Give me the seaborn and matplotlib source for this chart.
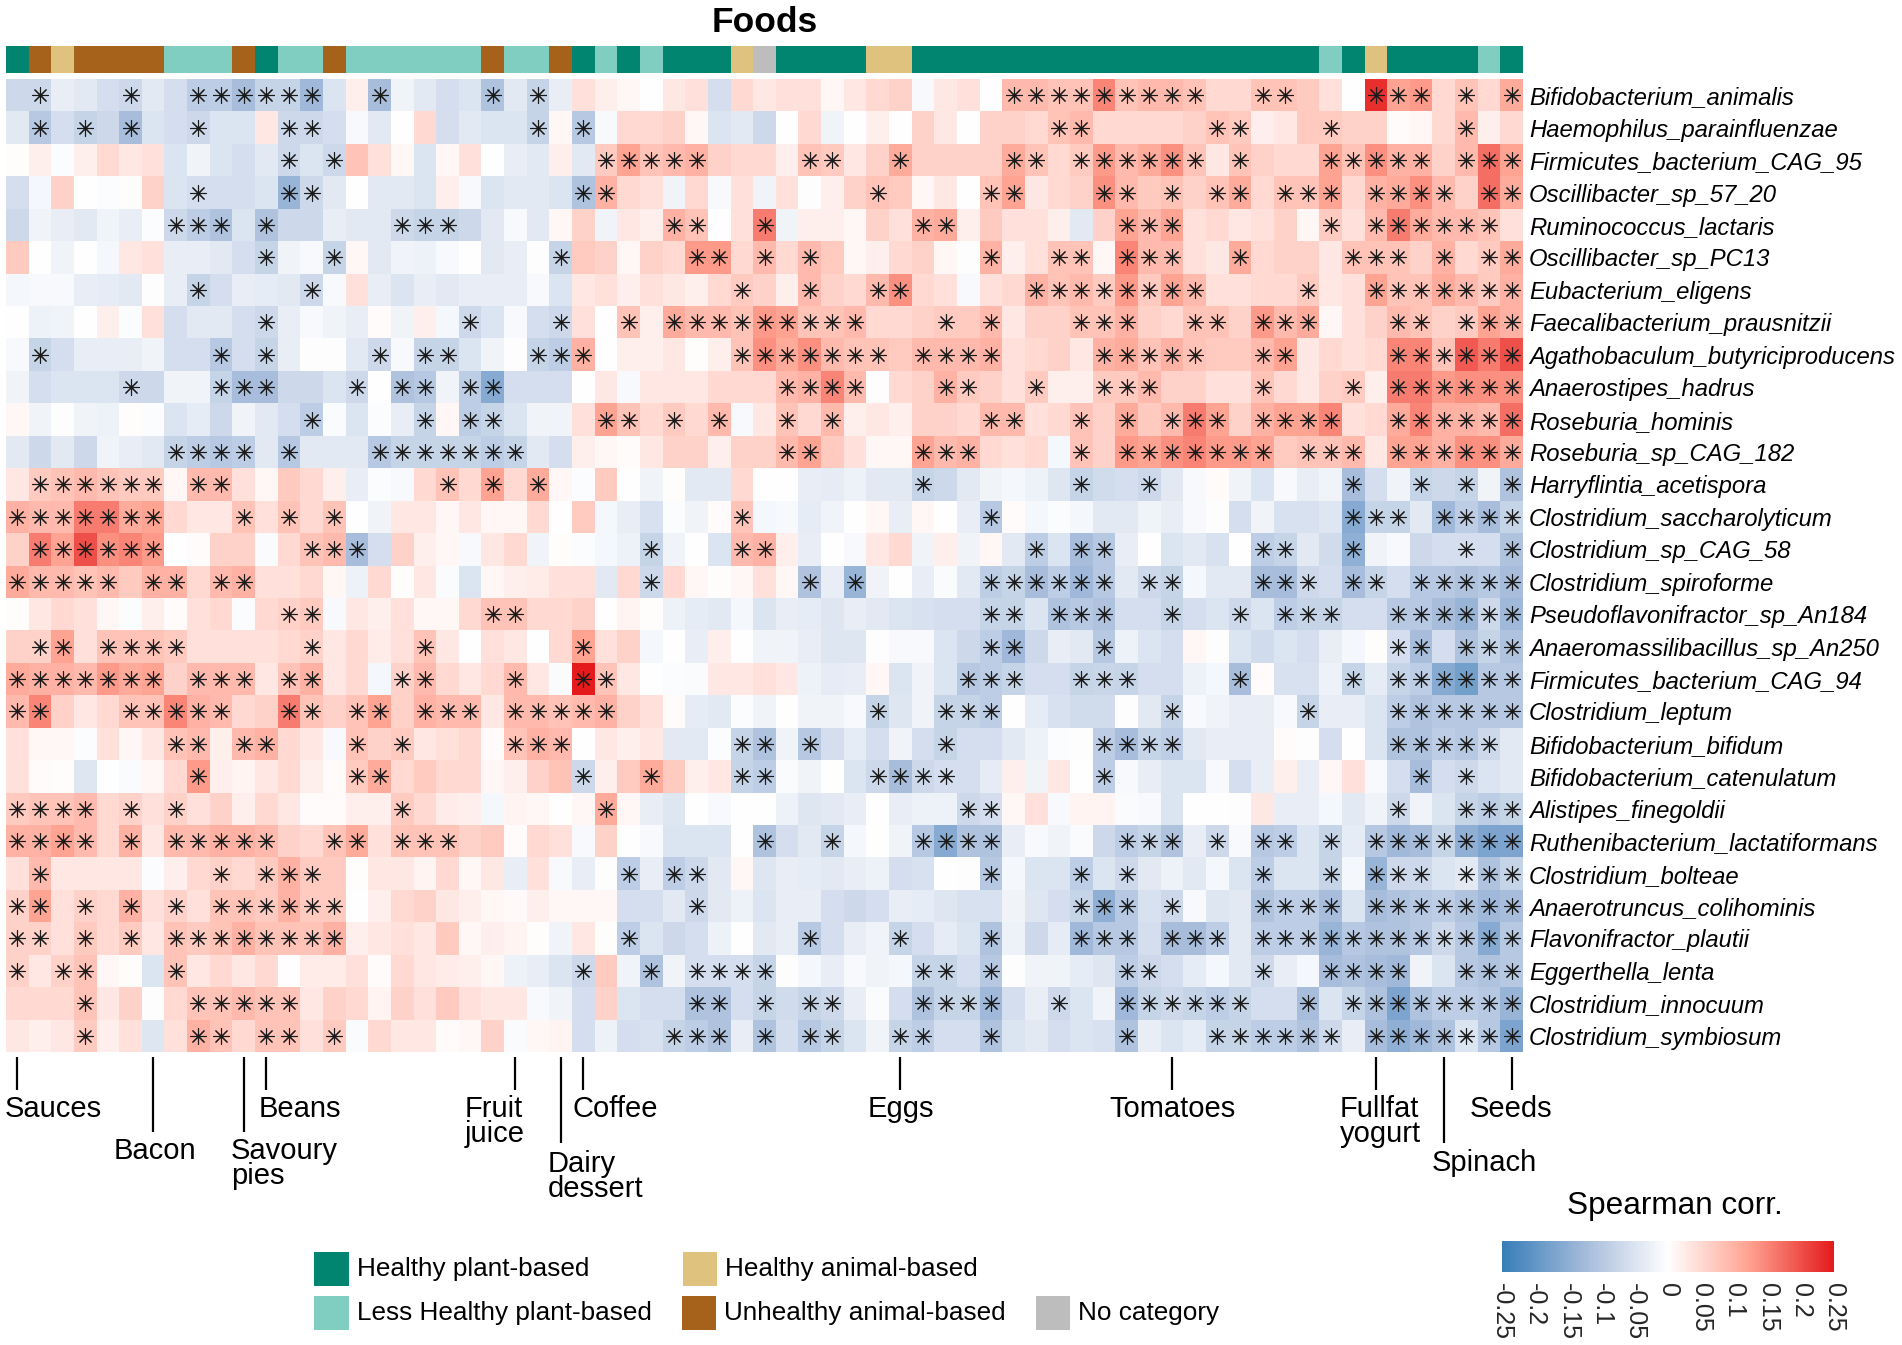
import pandas as pd
import matplotlib
matplotlib.use("Agg")
import matplotlib.pyplot as plt
from matplotlib.colors import LinearSegmentedColormap, ListedColormap
from matplotlib.patches import Rectangle
import seaborn as sns

W, H = 1902, 1345

species = ["Bifidobacterium_animalis", "Haemophilus_parainfluenzae", "Firmicutes_bacterium_CAG_95",
           "Oscillibacter_sp_57_20", "Ruminococcus_lactaris", "Oscillibacter_sp_PC13", "Eubacterium_eligens",
           "Faecalibacterium_prausnitzii", "Agathobaculum_butyriciproducens", "Anaerostipes_hadrus",
           "Roseburia_hominis", "Roseburia_sp_CAG_182", "Harryflintia_acetispora", "Clostridium_saccharolyticum",
           "Clostridium_sp_CAG_58", "Clostridium_spiroforme", "Pseudoflavonifractor_sp_An184",
           "Anaeromassilibacillus_sp_An250", "Firmicutes_bacterium_CAG_94", "Clostridium_leptum",
           "Bifidobacterium_bifidum", "Bifidobacterium_catenulatum", "Alistipes_finegoldii",
           "Ruthenibacterium_lactatiformans", "Clostridium_bolteae", "Anaerotruncus_colihominis",
           "Flavonifractor_plautii", "Eggerthella_lenta", "Clostridium_innocuum", "Clostridium_symbiosum"]

# food group of each column: 0 healthy plant, 1 less healthy plant, 2 healthy animal, 3 unhealthy animal, 4 none
food_groups = [0, 3, 2, 3, 3, 3, 3, 1, 1, 1, 3, 0, 1, 1, 3, 1, 1, 1, 1, 1, 1, 3, 1, 1, 3, 0, 1, 0, 1, 0, 0, 0, 2, 4,
               0, 0, 0, 0, 2, 2, 0, 0, 0, 0, 0, 0, 0, 0, 0, 0, 0, 0, 0, 0, 0, 0, 0, 0, 1, 0, 2, 0, 0, 0, 0, 1, 0]
group_names = ["Healthy plant-based", "Less Healthy plant-based", "Healthy animal-based",
               "Unhealthy animal-based", "No category"]
group_colors = ["#018571", "#80CDC1", "#DFC27D", "#A6611A", "#BDBDBD"]

# correlations in hundredths, one list per species
corr_pct = [
    [-7,-7,-3,-4,-6,-7,-4,-6,-9,-9,-12,-8,-8,-13,-5,2,-12,-2,-4,-6,-5,-11,-4,-8,-3,4,2,1,0,3,4,-6,5,3,4,4,1,3,5,6,-1,3,4,0,9,9,8,8,15,8,9,9,8,5,5,8,8,7,4,0,23,12,13,5,8,5,11],
    [-4,-10,-6,-8,-7,-12,-5,-6,-7,-5,-5,3,-7,-7,-6,-1,-4,0,5,-6,-4,-5,-5,-8,1,-10,-1,5,5,6,1,-5,-4,-7,0,5,-2,0,2,0,6,3,0,6,6,5,8,9,5,5,5,5,6,8,7,2,3,7,7,6,6,0.5,1,5,9,2,5],
    [0.3,2,-0.5,2,5,3,4,-5,-2,-5,-6,-4,-7,-5,-7,8,4,1,-5,1,4,0,-3,-4,2,-4,7,12,8,9,10,6,5,5,2,8,7,3,6,11,6,6,6,6,11,8,5,7,13,9,11,14,8,3,8,6,5,5,12,8,14,10,10,6,9,17,12],
    [-6,-1.5,6,0,-0.5,0.3,6,-5,-6,-6,-6,-5,-14,-7,-4,0,-4,-4,-5,2,-1,-5,-4,-4,-5,-11,10,5,4,-2,5,-1,4,-2,4,-0.3,2,6,8,7,1,3,0,8,12,3,5,6,14,9,7,8,6,8,11,5,8,8,12,5,10,11,14,9,6,17,11],
    [-7,-2,-3,-4,-2,-3,-0.5,-7,-9,-11,-5,-11,-7,-7,-3,-4,-4,-7,-8,-8,-7,-4,-1,-4,1,6,-2,3,2,10,8,0,4,16,-2,2,2,1,6,4,10,11,2,7,4,4,2,-4,6,12,9,12,4,5,3,4,6,1,7,4,9,16,11,9,9,8,4],
    [7,0,-2,0,-1.5,3,4,-3,-3,-4,-6,-8,-2,-1,-8,1,-4,-2,-2.5,-1,0,-4,-3,-0.3,-8,7,6,1,6,5,13,13,5,9,5,9,7,1,2,5,6,1,-0.3,10,2,4,8,8,1,15,9,9,4,3,11,5,6,6,3,8,8,8,6,10,5,7,11],
    [-1.5,-1,-1,-3,-3.5,-4,-0.3,-3,-8,-6,-3,-3.5,-4,-7,-1,4,-3,-5,-3,-4,-3,-3,-3,-1,-5,3,4,2,4,3,2,5,7,6,2,9,6,5,9,14,5,4,-1,4,5,10,8,9,7,13,7,12,9,4,4,5,5,7,3,4,12,8,8,11,9,7,10],
    [0,-2.5,-2,0,2,-0.5,4,-6,-4,-4,-6,-7,-3,-1,-2,-3,0.5,-2,2,-1.5,-7,-5,-1,-6,-7,4,0,8,2,11,9,9,8,13,12,8,8,9,5,5,6,7,7,9,3,6,6,8,8,10,6,5,8,8,6,13,9,11,1,4,6,9,8,6,7,12,10],
    [-1,-8,-6,-3,-3,-3,-2,-6,-6,-10,-6,-8,-3,-0.3,-0.3,-4,-7,-1,-8,-8,-5,-2,-0.3,-8,-9,10,0,2,2,3,0.3,2,8,14,11,14,9,8,8,7,9,9,9,10,4,5,6,3,10,11,8,10,8,7,7,9,12,3,5,4,5,15,15,8,19,16,20],
    [-2,-6,-5,-5,-5,-7,-7,-2,-2,-8,-12,-12,-7,-7,-5,-7,0,-11,-10,-2,-9,-16,-6,-6,-6,0,3,-1,3,3,3,5,5,5,9,10,15,9,-0.3,5,6,10,7,6,4,7,2,2,7,7,9,6,6,4,4,8,5,3,6,7,2,16,16,13,14,14,14],
    [1,-2,-0.3,-2,-2.5,0.3,-0.5,-5,-3.5,-7,-2,-4,-6,-9,-0.7,-5,-0.5,-3,-8,1,-9,-8,-5,-2,-2,4,12,8,5,7,5,9,-1,3,8,5,9,2,3,2,6,6,5,9,9,4,5,8,6,11,7,9,16,12,6,10,12,12,15,4,5,11,15,10,10,9,17],
    [-4,-7,-4,-7,-2,-3,-4,-8,-9,-10,-9,-4,-10,-4,-4,-4,-10,-8,-8,-8,-8,-9,-8,-4,-6,2,1,0.5,3,6,6,2,6,6,9,12,7,4,1,1,12,9,10,5,4,5,-1.5,8,6,13,12,14,15,13,13,12,7,8,8,9,3,12,12,10,14,14,11],
    [3,7,8,9,8,7,7,1,9,9,4,1,7,5,2,-3,-0.5,-1,5,8,5,12,5,11,1,-0.5,7,0,-2,0.3,-4,-4,5,0,0,-3,-3.5,-2.5,-4,-4,-8,-7,-4,-2,-1.5,-2.5,-4.5,-8,-6.5,-6,-7,-4,-1,0.5,-2,-5,-1,-3,-2,-12,-6,-2,-8,-7,-8,-2,-11],
    [10,9,9,16,16,11,12,5,3,3,8,4,8,5,8,0,-2,3,3,1,3,1,1,5,0,7,-1.5,-3,-5.5,-0.5,-2,0.5,8,-1.5,-1,-3.5,-2,0,1,-3,1,0,-3,-10,0.5,-1.5,-0.5,-1.5,-4,-4,-2,-3,-1,-0.3,-6,-2,-5.5,-5.5,-4.5,-16,-8,-8,-4,-13,-9,-12,-8],
    [6,16,12,20,14,15,13,0,0.5,6,6,-0.7,5,8,9,-12,-6,6,2,1,-1,3,5,-2,0.3,-0.5,-1.5,-2.5,-8,-2,0,-5,9,10,2,-3,0,-1,3,5,-2,2,-2,1,-4,-9,-5,-12,-10,-3,0,-5,-4,-5.5,0,-9,-8,-4,-6.5,-15,-2,-1,-7,-6,-6,-6,-11],
    [11,9,9,8,9,7,10,10,5,9,10,4,4,5,1,-2.5,5,0.3,3,-0.7,-5,1,2,2.5,4,4,-4,5,-7,5,1,0.3,1,4,1,-11,-3,-14,-2,0,-3,-0.7,-4,-9,-8,-12,-9,-13,-10,-4,-7,-8,-1.5,-4,-4,-12,-12,-7,-6,-12,-8,-6,-10,-10,-11,-10,-12],
    [0.3,3,5,4,1,-0.5,2,0.5,4,5,-0.5,5,6,7,-1,3,2,4,1,1,5,8,8,5,5,6,0,1.5,0.3,-2.5,-3.5,-4,-1.5,-5,-3,-3.5,-4.5,-3,-4,-5,-5.5,-6,-6,-8,-8,-5,-11,-10,-11,-6,-6,-8,-6,-5,-7,-5,-9,-8,-8,-6,-6,-10,-10,-12,-14,-7,-13],
    [6,6,12,4,8,8,8,7,4,4,4,4,5,6,3,5,2.5,4,8,3,0,4,3,0,5,12,4,6,-1.5,0,-3,2,0,-2,-2,-3,-4.5,-4.5,-0.3,-1,-1,-5,-7,-9,-13,-7,-3,-4,-10,-2.5,-5,-6,1,-0.3,-5,-6.5,-5,-6,-3,-1.5,0.3,-6,-12,-6,-11,-8,-11],
    [11,10,10,9,13,11,12,6,9,9,9,3,8,10,3,5,-1.5,6,9,5,3,5,9,3,-0.7,25,8,3,0,-0.5,-0.7,3,3,4,3,-2.5,-3.5,-3,1,-5,-2,-5,-10,-9,-8,-6,-6,-8,-7.5,-8,-6,-6,-2.5,-1.5,-12,0.5,-5.5,-5.5,-2.5,-8,-3.5,-8,-9,-16,-18,-10,-10],
    [9,15,6,3,5,8,8,15,10,9,5,6,16,8,6,8,12,6,10,9,9,3,9,9,8,9,10,6,4,0.5,-3.5,-4,-0.5,-2,0,-2,-2,-1,-8,-4.5,-2,-8,-8,-9,0,-3.5,-5.5,-6.5,-6.5,-0.3,-4,-8,-1,-2,-3,-3,-1,-8,-3,-3,-5,-9,-11,-10,-10,-10,-10],
    [4,1,1,-0.5,4,1,3,8,9,2,9,10,5,3,-1,8,6,7,3,4,5,0.5,8,10,9,0,3,2,3,-4,-4,-0.5,-8,-11,-2,-10,-6,-3.5,-6,-2,-6,-8,-6,-6,-4,-2.5,-0.5,-0.3,-9,-12,-8,-9,-4,-3,-3,-3,0.5,-0.3,-6,0,-5,-11,-11,-9,-10,-7,-4],
    [4,0.5,0.3,-4.5,0,-0.7,1,5,13,2,1.5,3,5,2,0.5,7,11,5,7,5,5,1,2,6,8,-7,2,7,11,7,2,3,-8,-9,-0.7,-2,0,-5,-7,-12,-7,-6,-6,-3.5,2,-2,3,0,-9,-1,-3,-5,-5,-1,-6,-3,2,-3,1,4,-1,-6,-12,-6,-7,-5,-4],
    [7,8,8,9,5,6,4,6,4,6,2,5,3,0.5,0.5,2,2,7,5,2.5,2,-1.5,1.5,1,0,1,11,1,-3,-4.5,0,-1,0,0,-2.5,-4.5,-4,-3,0,-3,-2.5,-2.5,-7,-6,1,4,-1,1.5,1.5,-0.7,-1,-5,0,0,-0.3,3,-3,-3,-1.5,-4,-2,-7,-2,-5,-8,-9,-8],
    [10,10,12,9,5,10,3,9,9,10,10,9,6,5,8,11,4,8,8,8,6,7,0.5,5,4,-1,6,0,-1,-5,-5,-5,0,-11,-6,-4,-8,-1.5,0,-2,-10,-16,-11,-11,-3,-1,-2,-0.7,-7,-9,-8,-11,-3,-7,-1,-10,-9,-5,-8,-3.5,-10,-13,-12,-8,-15,-17,-17],
    [4,9,3,3,3,3,-0.5,2,5,6,5,7,10,7,7,0.2,3,3,1.5,5,1,3,-3,4,-1,-3,-0.3,-9,-3,-9,-7,-4,1,-4.5,-3,-3.5,-4,-3,-2.5,-6,-5.5,0,-0.3,-10,-1.5,-5,-5,-9,-5,-7,-4,-2.5,-4,-1.5,-5,-9,-5,-5,-8,-1.5,-14,-7,-7,-5,-4,-11,-8],
    [6,12,4,6,5,10,4,6,4,8,8,7,10,7,7,0,2,5,6,3,2,1,0.7,2,1,1,1,-6,-6,-4,-7,-4,-2.5,-5,-3,-3,-6,-7,-6,-3,-3.5,-4.5,-5.5,-5.5,-2,-4.5,-6,-8,-15,-10,-5.5,-7,-1,-4.5,-4,-11,-9,-9,-12,-5,-12,-11,-10,-9,-11,-13,-12],
    [6,6,4,7,5,7,3,8,7,8,10,8,8,8,10,2,3,4,3,7,1,2,1.5,0.3,-2,3,0.3,-9,-5,-7,-6,-2.5,0,-4,-3,-10,-6,-3,-2,-8,-6,-3.5,-5,-11,-2.5,-7,-3.5,-13,-10,-10,-6,-12,-12,-9,-4,-9,-9,-9,-14,-10,-11,-11,-10,-7,-10,-16,-10],
    [6,3,6,8,1,0.3,-5,8,3,5,3,5,0,2.5,2.5,4,0.5,5,3,2.5,2,1,-2.5,-3,-5,-7,7,-2,-11,-2,-6,-6,-6,-8,-0.3,-1.5,-3,-1,-2,-1.5,-8,-8,-6,-10,-0.3,-2,-2,-3.5,-4.5,-9,-7,-6,-3.5,-1.5,-4,-7,-3,-1.5,-12,-11,-12,-13,-2,-5,-10,-11,-10],
    [5,5,5,8,3,6,-0.3,5,8,8,9,8,8,3,6,5,1.5,6,4,7,4,3,3,-1,-2,-6,6,-5,-6,-6,-11,-11,-6,-8,-6.5,-8,-7,-3,-0.7,-6,-11,-8,-8,-13,-6,-3,-7,-5,-2,-13,-8,-7,-8,-9,-8,-6,-6,-12,-5,-8,-11,-17,-11,-9,-9,-10,-14],
    [3,2,3,7,2,4,-4.5,4,10,8,5,8,8,4,7,-0.7,5,3,3,0.5,1,6,-0.7,1,1.5,-6,-2.5,-6,-5.5,-8,-9,-11,-3,-11,-6,-10,-8,-5,-2,-8,-9,-6,-6,-11,-5,-4,-6,-5,-5.5,-11,-3,-5,-3.5,-8,-8,-9,-9,-11,-7,-3,-12,-15,-13,-11,-5,-10,-17],
]

# columns carrying a significance star, one list per species
sig_cols = [
    [1,5,8,9,10,11,12,13,16,21,23,44,45,46,47,48,49,50,51,52,55,56,60,61,62,64,66],
    [1,3,5,8,12,13,23,25,46,47,53,54,58,64],
    [12,14,26,27,28,29,30,35,36,39,44,45,47,48,49,50,51,52,54,58,59,60,61,62,64,65,66],
    [8,12,13,25,26,38,43,44,48,49,51,53,54,56,57,58,60,61,62,63,65,66],
    [7,8,9,11,17,18,19,29,30,33,40,41,49,50,51,58,60,61,62,63,64,65],
    [11,14,24,30,31,33,35,43,46,47,49,50,51,54,59,60,61,63,65,66],
    [8,13,32,35,38,39,45,46,47,48,49,50,51,52,57,60,61,62,63,64,65,66],
    [11,20,24,27,29,30,31,32,33,34,35,36,37,41,43,47,48,49,52,53,55,56,57,61,62,64,65,66],
    [1,9,11,16,18,19,23,24,25,32,33,34,35,36,37,38,40,41,42,43,48,49,50,51,52,55,56,61,62,63,64,65,66],
    [5,9,10,11,15,17,18,20,21,34,35,36,37,41,42,45,48,49,50,55,59,61,62,63,64,65,66],
    [13,18,20,21,26,27,29,31,34,36,43,44,47,49,51,52,53,55,56,57,58,61,62,63,64,65,66],
    [7,8,9,10,12,16,17,18,19,20,21,22,34,35,40,41,42,47,49,50,51,52,53,54,55,57,58,59,61,62,63,64,65,66],
    [1,2,3,4,5,6,8,9,19,21,23,40,47,50,59,62,64,66],
    [0,1,2,3,4,5,6,10,12,14,32,43,59,60,61,63,64,65,66],
    [1,2,3,4,5,6,13,14,15,28,32,33,45,47,48,55,56,59,64,66],
    [0,1,2,3,4,6,7,9,10,28,35,37,43,44,45,46,47,48,50,51,55,56,57,59,60,62,63,64,65,66],
    [12,13,21,22,43,44,46,47,48,51,54,56,57,58,61,62,63,64,65,66],
    [1,2,4,5,6,7,13,18,25,43,44,48,61,62,64,65,66],
    [0,1,2,3,4,5,6,8,9,10,12,13,17,18,22,25,26,42,43,44,47,48,49,54,59,61,62,63,64,65,66],
    [0,1,5,6,7,8,9,12,13,15,16,18,19,20,22,23,24,25,26,38,41,42,43,51,57,61,62,63,64,65,66],
    [7,8,10,11,15,17,22,23,24,32,33,35,41,48,49,50,51,61,62,63,64,65],
    [8,15,16,25,28,32,33,38,39,40,41,48,62,64],
    [0,1,2,3,5,7,17,26,42,43,61,64,65,66],
    [0,1,2,3,5,7,8,9,10,11,14,15,17,18,19,33,36,40,41,42,43,49,50,51,53,55,56,58,60,61,62,63,64,65,66],
    [1,9,11,12,13,27,29,30,43,47,49,55,58,60,61,62,64,65,66],
    [0,1,3,5,7,9,10,11,12,13,14,30,47,48,49,51,55,56,57,58,60,61,62,63,64,65,66],
    [0,1,3,5,7,8,9,10,11,12,13,14,27,35,39,43,47,48,49,51,52,53,55,56,57,58,59,60,61,62,63,64,65,66],
    [0,2,3,7,25,28,30,31,32,33,40,41,43,49,50,55,58,59,60,61,64,65,66],
    [3,8,9,10,11,12,30,31,33,35,36,40,41,42,43,46,49,50,51,52,53,54,57,59,60,61,62,63,64,65,66],
    [3,8,9,11,12,14,29,30,31,33,35,36,39,40,43,49,53,54,55,56,57,58,60,61,62,63,64,65,66],
]

callout_labels = ["Sauces", "Bacon", "Savoury\npies", "Beans", "Fruit\njuice", "Dairy\ndessert", "Coffee",
                  "Eggs", "Tomatoes", "Fullfat\nyogurt", "Spinach", "Seeds"]
callout_cols = [0, 6, 10, 11, 22, 24, 25, 39, 51, 60, 63, 66]
callout_ends = [1090, 1132, 1132, 1090, 1090, 1143, 1090, 1090, 1090, 1090, 1143, 1090]
callout_text_x = [5, 114, 231, 259, 465, 548, 572, 868, 1109, 1340, 1432, 1470]
callout_text_y = [1095, 1137, 1137, 1095, 1095, 1150, 1095, 1095, 1095, 1095, 1149, 1095]

cbar_ticks = [-0.25, -0.2, -0.15, -0.1, -0.05, 0, 0.05, 0.1, 0.15, 0.2, 0.25]
cbar_labels = ["-0.25", "-0.2", "-0.15", "-0.1", "-0.05", "0", "0.05", "0.1", "0.15", "0.2", "0.25"]

sns.set_theme(style="white")
plt.rcParams["font.family"] = ["Liberation Sans", "DejaVu Sans"]

corr_df = pd.DataFrame(corr_pct, index=species) / 100
cmap = LinearSegmentedColormap.from_list("corr", [(0, "#377EB8"), (0.25, "#A5BBDB"), (0.5, "#FFFFFF"),
                                                  (0.75, "#FFA08E"), (1, "#E41A1C")])


def px_axes(x0, y0, x1, y1):
    return fig.add_axes([x0 / W, 1 - y1 / H, (x1 - x0) / W, (y1 - y0) / H])


fig = plt.figure(figsize=(W / 100, H / 100), dpi=100)
HM_X0, HM_X1, HM_Y0, HM_Y1 = 6, 1523, 79, 1052
ax = px_axes(HM_X0, HM_Y0, HM_X1, HM_Y1)
bar_ax = px_axes(HM_X0, 46, HM_X1, 73)
cax = px_axes(1502, 1241, 1834, 1272)

sns.heatmap(corr_df, ax=ax, cmap=cmap, vmin=-0.25, vmax=0.25, xticklabels=False, yticklabels=species,
            cbar_ax=cax, cbar_kws={"orientation": "horizontal"})
ax.tick_params(axis="y", left=False, right=False, length=0, pad=4.2, labelright=True, labelleft=False)
plt.setp(ax.get_yticklabels(), rotation=0, style="italic", fontsize=17.2, color="black")
ax.set_xlabel("")
ax.set_ylabel("")

star_x = [c + 0.5 for row in sig_cols for c in row]
star_y = [i + 0.5 for i, row in enumerate(sig_cols) for c in row]
ax.scatter(star_x, star_y, marker=(8, 2, 0), s=130, color="#1a1a1a", linewidths=0.8, zorder=3)

sns.heatmap([food_groups], ax=bar_ax, cmap=ListedColormap(group_colors), vmin=-0.5, vmax=4.5, cbar=False,
            xticklabels=False, yticklabels=False)

cbar = ax.collections[0].colorbar
cbar.set_ticks(cbar_ticks)
cbar.set_ticklabels(cbar_labels)
cax.tick_params(axis="x", direction="in", color="white", length=5, width=1.2, top=True, bottom=True,
                labelsize=18, pad=8)
plt.setp(cax.get_xticklabels(), rotation=270, va="top", ha="center")
cbar.outline.set_visible(False)

# overlay in pixel coordinates for title, callouts and legend
over = fig.add_axes([0, 0, 1, 1], facecolor="none")
over.set_xlim(0, W)
over.set_ylim(H, 0)
over.set_axis_off()

over.text(765, 22, "Foods", ha="center", va="center", fontsize=25.5, fontweight="bold", color="black")

cell_w = (HM_X1 - HM_X0) / len(food_groups)
for label, col, end, tx, ty in zip(callout_labels, callout_cols, callout_ends, callout_text_x, callout_text_y):
    lx = HM_X0 + (col + 0.5) * cell_w
    over.plot([lx, lx], [1057, end], color="black", lw=1.6, solid_capstyle="butt")
    over.text(tx, ty, label, ha="left", va="top", fontsize=21, linespacing=0.86, color="black")

over.text(1675, 1206, "Spearman corr.", ha="center", va="center", fontsize=22.7, color="black")

swatches = [(314, 1252, 35, 0, 357), (314, 1296, 35, 1, 357), (683, 1252, 34, 2, 725), (682, 1296, 34, 3, 724),
            (1036, 1296, 34, 4, 1078)]
for sx, sy, sw, g, tx in swatches:
    over.add_patch(Rectangle((sx, sy), sw, 34, facecolor=group_colors[g], edgecolor="none"))
    over.text(tx, sy + 17, group_names[g], ha="left", va="center", fontsize=18.8, color="black")

fig.savefig("out.png", dpi=100)
